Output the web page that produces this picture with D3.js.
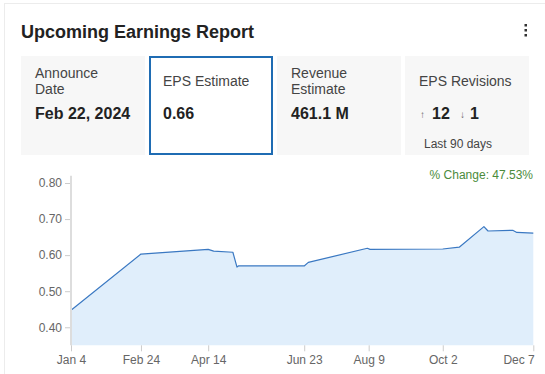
<!DOCTYPE html>
<html>
<head>
<meta charset="utf-8">
<script src="https://cdn.jsdelivr.net/npm/d3@7"></script>
<style>
  body { margin: 0; background: #fff; font-family: "Liberation Sans", Arial, sans-serif; }
</style>
</head>
<body>
<div id="card"></div>
<script>
// Datos
const fechas = ["2023-01-04", "2023-02-24", "2023-04-14", "2023-04-18", "2023-05-02", "2023-05-05",
  "2023-05-06", "2023-06-23", "2023-06-26", "2023-08-08", "2023-08-10", "2023-10-02",
  "2023-10-14", "2023-11-01", "2023-11-04", "2023-11-22", "2023-11-25", "2023-12-07"]
const eps = [0.447, 0.603, 0.616, 0.611, 0.608, 0.567, 0.570, 0.570, 0.580, 0.619, 0.616, 0.617,
  0.622, 0.679, 0.667, 0.669, 0.663, 0.661]
const ticksX = ["2023-01-04", "2023-02-24", "2023-04-14", "2023-06-23", "2023-08-09", "2023-10-02", "2023-12-07"]
const ticksY = [0.4, 0.5, 0.6, 0.7, 0.8]

const etiquetas = [["Announce", "Date"], ["EPS Estimate"], ["Revenue", "Estimate"], ["EPS Revisions"]]
const valores = ["Feb 22, 2024", "0.66", "461.1 M", null]
const revisiones = { arriba: 12, abajo: 1, periodo: "Last 90 days" }
const cambio = "% Change: 47.53%"

const draw = () => {
  const ancho = 545
  const alto = 374
  const parse = d3.timeParse("%Y-%m-%d")
  const dataset = fechas.map((f, i) => ({ fecha: parse(f), eps: eps[i] }))

  const svg = d3.select("#card")
    .append("svg")
    .attr("width", ancho)
    .attr("height", alto)
    .style("display", "block")

  // Tarjeta
  svg.append("rect")
    .attr("x", 4.5).attr("y", 3.5)
    .attr("width", ancho + 100).attr("height", alto + 100)
    .attr("fill", "#fff").attr("stroke", "#ececec")

  svg.append("text")
    .attr("x", 21).attr("y", 38)
    .attr("font-size", 18).attr("font-weight", "bold").attr("fill", "#222")
    .text("Upcoming Earnings Report")

  // Menu
  svg.append("g")
    .selectAll("rect")
    .data([0, 1, 2])
    .join("rect")
    .attr("x", 524.5).attr("y", (d) => 24 + d * 5)
    .attr("width", 2.5).attr("height", 2.5)
    .attr("fill", "#333")

  // Cajas
  const cajaX = (i) => 21 + i * 128
  const cajas = svg.append("g")
    .selectAll("g")
    .data(etiquetas)
    .join("g")
    .attr("transform", (d, i) => `translate(${cajaX(i)}, 56)`)

  cajas.append("rect")
    .attr("x", (d, i) => (i === 1 ? 1 : 0))
    .attr("y", (d, i) => (i === 1 ? 1 : 0))
    .attr("width", (d, i) => (i === 1 ? 122 : 124))
    .attr("height", (d, i) => (i === 1 ? 97 : 99))
    .attr("fill", (d, i) => (i === 1 ? "#fff" : "#f7f7f7"))
    .attr("stroke", (d, i) => (i === 1 ? "#1f6cb3" : "none"))
    .attr("stroke-width", 2)

  cajas.each(function (d, i) {
    const g = d3.select(this)
    const y0 = d.length === 2 ? 22 : 30
    d.forEach((linea, j) => {
      g.append("text")
        .attr("x", 14).attr("y", y0 + j * 15.5)
        .attr("font-size", 14).attr("fill", "#444")
        .text(linea)
    })
    if (valores[i]) {
      g.append("text")
        .attr("x", 14).attr("y", 62.5)
        .attr("font-size", 16).attr("font-weight", "bold").attr("fill", "#222")
        .text(valores[i])
    }
  })

  const rev = svg.append("g").attr("transform", `translate(${cajaX(3)}, 56)`)
  rev.append("text").attr("x", 15).attr("y", 62).attr("font-size", 10).attr("fill", "#666").text("↑")
  rev.append("text").attr("x", 27).attr("y", 63).attr("font-size", 16).attr("font-weight", "bold").attr("fill", "#222").text(revisiones.arriba)
  rev.append("text").attr("x", 55).attr("y", 62).attr("font-size", 10).attr("fill", "#666").text("↓")
  rev.append("text").attr("x", 65).attr("y", 63).attr("font-size", 16).attr("font-weight", "bold").attr("fill", "#222").text(revisiones.abajo)
  rev.append("text").attr("x", 19).attr("y", 91.5).attr("font-size", 12).attr("fill", "#444").text(revisiones.periodo)

  // Escaladores
  const x = d3.scaleTime()
    .domain(d3.extent(dataset, (d) => d.fecha))
    .range([71, 533.3])
  const y = d3.scaleLinear()
    .domain([0.35, 0.82])
    .range([345.3, 175.8])

  const area = d3.area()
    .x((d) => x(d.fecha))
    .y0(y(0.35))
    .y1((d) => y(d.eps))
  const linea = d3.line()
    .x((d) => x(d.fecha))
    .y((d) => y(d.eps))

  svg.append("path")
    .datum(dataset)
    .attr("d", area)
    .attr("fill", "#e0eefb")

  svg.append("path")
    .datum(dataset)
    .attr("d", linea)
    .attr("fill", "none")
    .attr("stroke", "#3a78c2")
    .attr("stroke-width", 1.2)
    .attr("stroke-linejoin", "round")

  // Ejes
  const ejeY = svg.append("g")
    .attr("transform", "translate(70, 0)")
    .call(d3.axisLeft(y).tickValues(ticksY).tickFormat(d3.format(".2f")).tickSize(5).tickPadding(3))
  ejeY.select(".domain").remove()
  ejeY.selectAll("line").attr("stroke", "#ccc")
  ejeY.selectAll("text").attr("font-size", 12).attr("fill", "#666").attr("font-family", "Liberation Sans, Arial, sans-serif")

  svg.append("line")
    .attr("x1", 71).attr("x2", 71)
    .attr("y1", y(0.82)).attr("y2", y(0.35))
    .attr("stroke", "#ddd").attr("stroke-width", 2)

  const ejeX = svg.append("g")
    .attr("transform", `translate(0, ${y(0.35)})`)
    .call(d3.axisBottom(x).tickValues(ticksX.map(parse)).tickFormat(d3.timeFormat("%b %-d")).tickSize(6).tickPadding(4))
  ejeX.select(".domain").remove()
  ejeX.selectAll("line").attr("stroke", "#ccc")
  ejeX.selectAll("text").attr("font-size", 12).attr("fill", "#666").attr("font-family", "Liberation Sans, Arial, sans-serif")
  ejeX.selectAll(".tick:last-of-type text").attr("text-anchor", "end").attr("dx", "1")

  svg.append("text")
    .attr("x", 533).attr("y", 179)
    .attr("text-anchor", "end")
    .attr("font-size", 12).attr("fill", "#4b8b3b")
    .text(cambio)
}

draw()
</script>
</body>
</html>
